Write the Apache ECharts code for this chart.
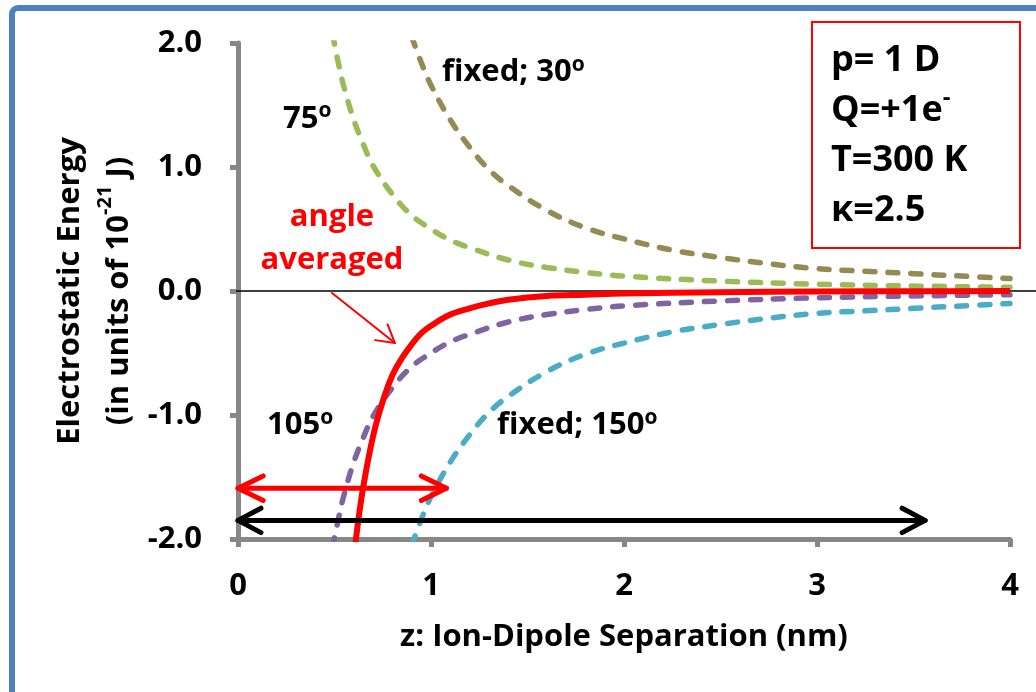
<!DOCTYPE html>
<html><head><meta charset="utf-8">
<script src="https://cdn.jsdelivr.net/npm/echarts@6/dist/echarts.min.js"></script>
<style>html,body{margin:0;padding:0;background:#fff}#c{width:1036px;height:692px}</style>
</head><body><div id="c"></div>
<script>
// ---- data ----
const xTicks = [0, 1, 2, 3, 4];
const yTicks = [-2, -1, 0, 1, 2];

const zFixed30 = [0.9, 0.95, 1.0, 1.1, 1.2, 1.3, 1.4, 1.6, 1.8, 2.0, 2.25, 2.5, 2.75, 3.0, 3.25, 3.5, 3.75, 4.0];
const eFixed30 = [2.05, 1.84, 1.66, 1.38, 1.16, 0.98, 0.85, 0.65, 0.51, 0.42, 0.33, 0.27, 0.22, 0.18, 0.16, 0.14, 0.12, 0.10];

const z75 = [0.49, 0.52, 0.55, 0.6, 0.65, 0.7, 0.8, 0.9, 1.0, 1.1, 1.2, 1.4, 1.6, 1.8, 2.0, 2.5, 3.0, 3.5, 4.0];
const e75 = [2.07, 1.84, 1.64, 1.38, 1.18, 1.01, 0.78, 0.61, 0.50, 0.41, 0.35, 0.25, 0.19, 0.15, 0.12, 0.08, 0.055, 0.04, 0.03];

const z105 = [0.49, 0.52, 0.55, 0.6, 0.65, 0.7, 0.8, 0.9, 1.0, 1.1, 1.2, 1.4, 1.6, 1.8, 2.0, 2.5, 3.0, 3.5, 4.0];
const e105 = [-2.07, -1.84, -1.64, -1.38, -1.18, -1.01, -0.78, -0.61, -0.50, -0.41, -0.35, -0.25, -0.19, -0.15, -0.12, -0.08, -0.055, -0.04, -0.03];

const zFixed150 = [0.9, 0.95, 1.0, 1.1, 1.2, 1.3, 1.4, 1.6, 1.8, 2.0, 2.25, 2.5, 2.75, 3.0, 3.25, 3.5, 3.75, 4.0];
const eFixed150 = [-2.05, -1.84, -1.66, -1.38, -1.16, -0.98, -0.85, -0.65, -0.51, -0.42, -0.33, -0.27, -0.22, -0.18, -0.16, -0.14, -0.12, -0.10];

const zAvg = [0.6, 0.62, 0.65, 0.7, 0.75, 0.8, 0.85, 0.9, 0.95, 1.0, 1.1, 1.2, 1.3, 1.4, 1.6, 1.8, 2.0, 2.5, 3.0, 3.5, 4.0];
const eAvg = [-2.16, -1.89, -1.57, -1.17, -0.89, -0.68, -0.54, -0.43, -0.34, -0.28, -0.19, -0.14, -0.10, -0.07, -0.04, -0.03, -0.02, -0.01, -0.004, -0.002, -0.001];

// annotation arrows (data coordinates)
const redSpan = [[0, -1.59], [1.08, -1.59]];
const blackSpan = [[0, -1.85], [3.56, -1.85]];
const pointer = [[0.487, -0.016], [0.813, -0.42]];

// ---- styling ----
const FONT = 'Open Sans';
const AXIS_GRAY = '#878787';
const zip = (xs, ys) => xs.map((x, i) => [x, ys[i]]);

function dashed(name, xs, ys, color) {
  return {
    name, type: 'line', data: zip(xs, ys), smooth: 0.4, symbol: 'none', clip: true,
    lineStyle: { color, width: 5.5, type: [10, 13], cap: 'round' }, z: 3
  };
}

const option = {
  animation: false,
  backgroundColor: '#ffffff',
  grid: { left: 238, right: 26, top: 43, bottom: 153, containLabel: false },
  xAxis: {
    type: 'value', min: xTicks[0], max: xTicks[xTicks.length - 1], interval: 1,
    axisLine: { onZero: false, lineStyle: { color: AXIS_GRAY, width: 5 } },
    axisTick: { show: true, length: 8, lineStyle: { color: AXIS_GRAY, width: 5 } },
    splitLine: { show: false },
    axisLabel: { margin: 32, color: '#000', fontFamily: FONT, fontWeight: 'bold', fontSize: 31 },
    name: 'z: Ion-Dipole Separation (nm)', nameLocation: 'middle', nameGap: 80, nameMoveOverlap: false,
    nameTextStyle: { color: '#000', fontFamily: FONT, fontWeight: 'bold', fontSize: 31, lineHeight: 36 }
  },
  yAxis: {
    type: 'value', min: yTicks[0], max: yTicks[yTicks.length - 1], interval: 1,
    axisLine: { onZero: false, lineStyle: { color: AXIS_GRAY, width: 5 } },
    axisTick: { show: true, length: 8, lineStyle: { color: AXIS_GRAY, width: 5 } },
    splitLine: { show: false },
    axisLabel: { margin: 36, color: '#000', fontFamily: FONT, fontWeight: 'bold', fontSize: 31,
      formatter: v => v.toFixed(1) },
    name: '{t|Electrostatic Energy}\n{t|(in units of 10}{s|-21}{t| J)}',
    nameLocation: 'middle', nameGap: 94, nameMoveOverlap: false,
    nameTextStyle: {
      color: '#000', fontFamily: FONT, fontWeight: 'bold', fontSize: 31, lineHeight: 49,
      rich: {
        t: { color: '#000', fontFamily: FONT, fontWeight: 'bold', fontSize: 31, lineHeight: 49 },
        s: { color: '#000', fontFamily: FONT, fontWeight: 'bold', fontSize: 20, lineHeight: 39, verticalAlign: 'top' }
      }
    }
  },
  series: [
    dashed('fixed; 30', zFixed30, eFixed30, '#948A54'),
    dashed('75', z75, e75, '#9BBB59'),
    dashed('105', z105, e105, '#8064A2'),
    dashed('fixed; 150', zFixed150, eFixed150, '#4BACC6'),
    {
      name: 'angle averaged', type: 'line', data: zip(zAvg, eAvg), smooth: 0.4, symbol: 'none', clip: true,
      lineStyle: { color: '#FF0000', width: 6 }, z: 4
    }
  ]
};

const chart = echarts.init(document.getElementById('c'));
chart.setOption(option);

const px = p => chart.convertToPixel({ gridIndex: 0 }, p);

function head(tip, from, len, angDeg) {
  const dx = from[0] - tip[0], dy = from[1] - tip[1];
  const d = Math.hypot(dx, dy), ux = dx / d, uy = dy / d;
  const a = angDeg * Math.PI / 180, c = Math.cos(a), s = Math.sin(a);
  return [
    [tip[0] + len * (ux * c - uy * s), tip[1] + len * (ux * s + uy * c)],
    tip,
    [tip[0] + len * (ux * c + uy * s), tip[1] + len * (-ux * s + uy * c)]
  ];
}

function arrowEls(span, color, width, len, ang, both) {
  const a = px(span[0]), b = px(span[1]);
  const st = { stroke: color, lineWidth: width, lineCap: 'round', lineJoin: 'round', fill: null };
  const els = [
    { type: 'line', shape: { x1: a[0], y1: a[1], x2: b[0], y2: b[1] }, style: st, z: 20 },
    { type: 'polyline', shape: { points: head(b, a, len, ang) }, style: st, z: 20 }
  ];
  if (both) els.push({ type: 'polyline', shape: { points: head(a, b, len, ang) }, style: st, z: 20 });
  return els;
}

const richBlack = {
  t: { fill: '#000', fontFamily: FONT, fontWeight: 'bold', fontSize: 31, lineHeight: 36 },
  s: { fill: '#000', fontFamily: FONT, fontWeight: 'bold', fontSize: 21, lineHeight: 25, verticalAlign: 'top' }
};

function label(text, dataPos, opts) {
  const p = px(dataPos);
  return {
    type: 'text', z: 20,
    style: Object.assign({
      text, x: p[0], y: p[1], rich: richBlack,
      align: 'left', textAlign: 'left', verticalAlign: 'middle', textVerticalAlign: 'middle',
      fill: '#000', font: 'bold 31px ' + FONT
    }, opts || {})
  };
}

const zero = px([0, 0]);
const graphics = [
  { type: 'rect', shape: { x: 12, y: 8, width: 1300, height: 900, r: 6 },
    style: { fill: null, stroke: '#4F81BD', lineWidth: 6 }, z: 30, silent: true },
  { type: 'line', shape: { x1: zero[0] - 2, y1: zero[1], x2: 1036, y2: zero[1] },
    style: { stroke: '#000', lineWidth: 1.5 }, z: 1 },
  { type: 'rect', shape: { x: 812, y: 22, width: 208, height: 226 },
    style: { fill: '#fff', stroke: '#FF0000', lineWidth: 2 }, z: 20 },
  {
    type: 'text', z: 21,
    style: {
      text: '{b|p= 1 D}\n{b|Q=+1e}{s|-}\n{b|T=300 K}\n{b|\u03BA=2.5}',
      x: 831, y: 36, align: 'left', textAlign: 'left', verticalAlign: 'top', textVerticalAlign: 'top',
      rich: {
        b: { fill: '#000', fontFamily: FONT, fontWeight: 'bold', fontSize: 36, lineHeight: 50 },
        s: { fill: '#000', fontFamily: FONT, fontWeight: 'bold', fontSize: 24, lineHeight: 34, verticalAlign: 'top' }
      }
    }
  },
  label('{t|fixed; 30}{s|o}', [1.057, 1.766]),
  label('{t|75}{s|o}', [0.233, 1.387]),
  label('{t|105}{s|o}', [0.150, -1.081]),
  label('{t|fixed; 150}{s|o}', [1.342, -1.081]),
  label('{r|angle}\n{r|averaged}', [0.487, 0.423], {
    align: 'center', textAlign: 'center',
    rich: { r: { fill: '#FF0000', fontFamily: FONT, fontWeight: 'bold', fontSize: 31, lineHeight: 43 } }
  })
]
  .concat(arrowEls(redSpan, '#FF0000', 5, 28, 26, true))
  .concat(arrowEls(blackSpan, '#000000', 5, 26, 28, true))
  .concat(arrowEls(pointer, '#FF0000', 2, 20, 30, false));

chart.setOption({ graphic: { elements: graphics } });
</script>
</body></html>
